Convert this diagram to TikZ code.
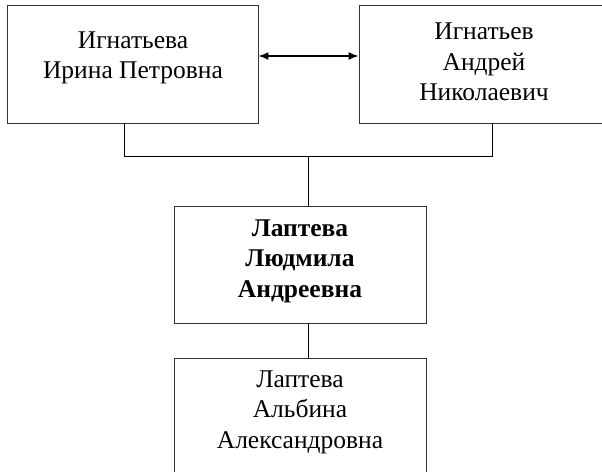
\documentclass[tikz,border=0pt]{standalone}
\usepackage{fontspec}
\setmainfont{Liberation Serif}
\usetikzlibrary{arrows.meta}
\begin{document}
\begin{tikzpicture}[x=1pt,y=-1pt,
  box/.style={draw, line width=0.9pt, inner sep=0pt, draw=black!80},
  txt/.style={align=center, font=\fontsize{25.5}{30.5}\selectfont, inner sep=0pt},
  conn/.style={line width=0.7pt},
  dbl/.style={line width=1.5pt, {Latex[length=10pt,width=8pt]}-{Latex[length=10pt,width=8pt]}}]
\useasboundingbox (0,0) rectangle (602,471);
\clip (0,0) rectangle (602,471);
\node[box, minimum width=251pt, minimum height=118pt] (a) at (132.5,64) {};
\node[box, minimum width=251pt, minimum height=118pt] (b) at (484.5,64) {};
\node[box, minimum width=252pt, minimum height=117pt] (c) at (300,264.5) {};
\node[box, minimum width=252pt, minimum height=130pt, anchor=north] (d) at (300,358) {};
\node[txt] (ta) at (133,58) {Игнатьева\\Ирина Петровна};
\node[txt] (tb) at (484,62) {Игнатьев\\Андрей\\Николаевич};
\node[txt, font=\fontsize{25.5}{30.5}\selectfont\bfseries] (tc) at (300,261) {Лаптева\\Людмила\\Андреевна};
\node[txt] (td) at (300,412) {Лаптева\\Альбина\\Александровна};
\coordinate (jl) at (124,156);
\coordinate (jr) at (492,156);
\coordinate (jm) at (308,156);
\draw[conn] (a.south -| jl) -- (jl) -- (jr) -- (b.south -| jr);
\draw[conn] (jm) -- (c.north -| jm);
\draw[conn] (c.south -| jm) -- (d.north -| jm);
\draw[dbl] ([yshift=8pt]a.east) -- ([yshift=8pt]b.west);
\end{tikzpicture}
\end{document}
